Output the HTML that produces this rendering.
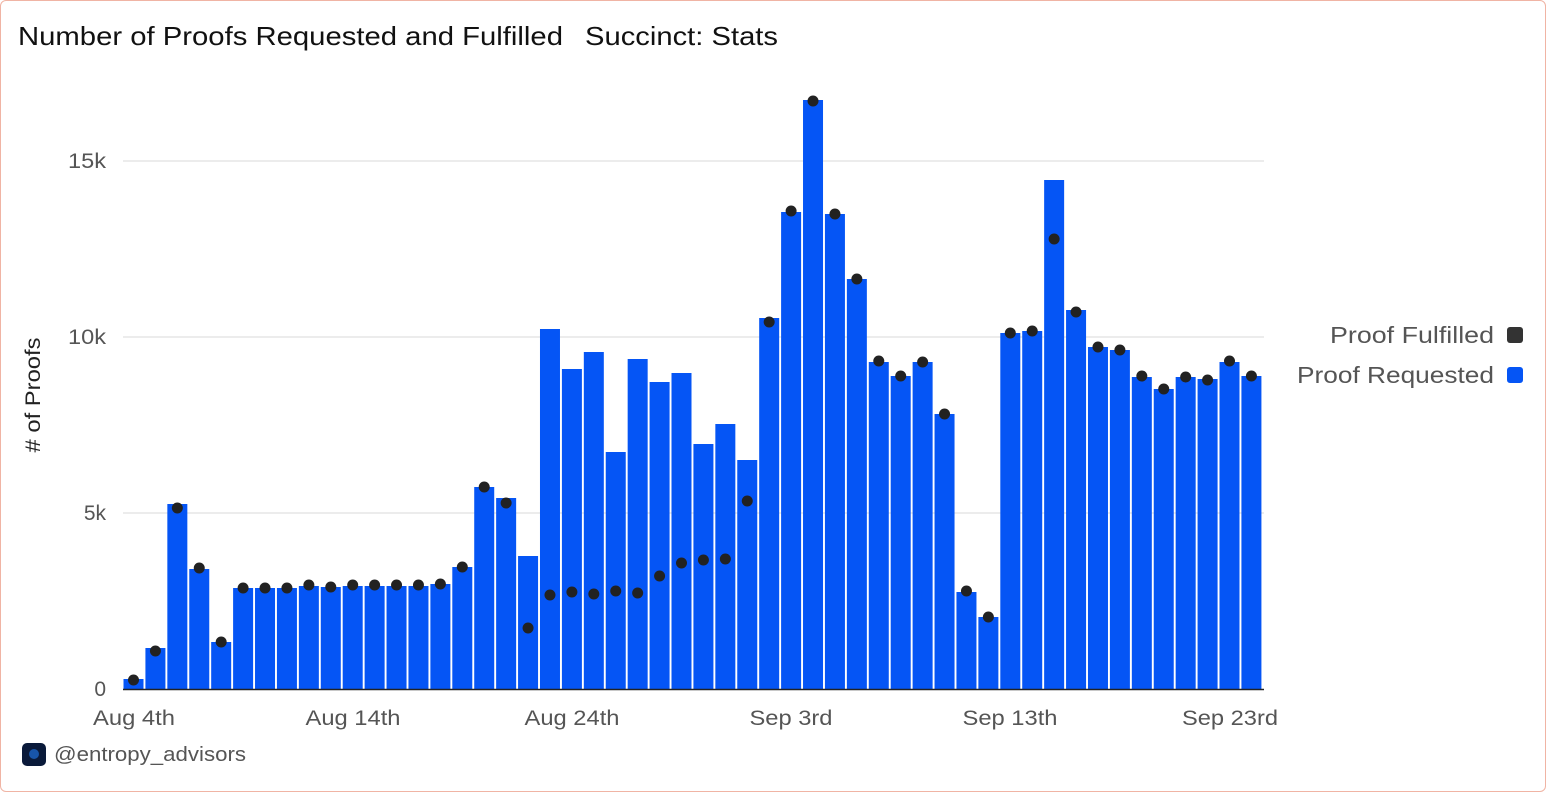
<!DOCTYPE html>
<html><head><meta charset="utf-8"><style>
html,body{margin:0;padding:0;background:#fff;}
#c{position:relative;width:1544px;height:790px;border:1px solid #f0b4a4;border-radius:6px;overflow:hidden;font-family:"Liberation Sans",sans-serif;}
</style></head><body><div id="c">
<svg width="1546" height="792" style="position:absolute;left:-1px;top:-1px">
<text x="18" y="45" font-size="26" fill="#111" textLength="545" lengthAdjust="spacingAndGlyphs">Number of Proofs Requested and Fulfilled</text>
<text x="585" y="45" font-size="26" fill="#111" textLength="193" lengthAdjust="spacingAndGlyphs">Succinct: Stats</text>
<g stroke="#e6e6e6" stroke-width="1.5">
<line x1="123" x2="1264" y1="161" y2="161"/><line x1="123" x2="1264" y1="337" y2="337"/><line x1="123" x2="1264" y1="513" y2="513"/>
</g>
<g font-size="21" fill="#555" text-anchor="end">
<text x="106" y="168" textLength="38" lengthAdjust="spacingAndGlyphs">15k</text><text x="106" y="344" textLength="38" lengthAdjust="spacingAndGlyphs">10k</text><text x="106" y="520">5k</text><text x="106" y="696">0</text>
</g>
<text transform="translate(40,395) rotate(-90)" font-size="21" fill="#222" text-anchor="middle" textLength="115" lengthAdjust="spacingAndGlyphs"># of Proofs</text>
<g id="bars"></g>
<line x1="123" x2="1264" y1="689.5" y2="689.5" stroke="#222" stroke-width="1.5"/>
<g id="dots"></g>
<g font-size="21" fill="#555" text-anchor="middle">
<text x="134" y="725" textLength="82" lengthAdjust="spacingAndGlyphs">Aug 4th</text><text x="353" y="725" textLength="95" lengthAdjust="spacingAndGlyphs">Aug 14th</text><text x="572" y="725" textLength="95" lengthAdjust="spacingAndGlyphs">Aug 24th</text><text x="791" y="725" textLength="83" lengthAdjust="spacingAndGlyphs">Sep 3rd</text><text x="1010" y="725" textLength="95" lengthAdjust="spacingAndGlyphs">Sep 13th</text><text x="1230" y="725" textLength="96" lengthAdjust="spacingAndGlyphs">Sep 23rd</text>
</g>
<g font-size="23" fill="#555" text-anchor="end">
<text x="1494" y="343" textLength="164" lengthAdjust="spacingAndGlyphs">Proof Fulfilled</text><text x="1494" y="383" textLength="197" lengthAdjust="spacingAndGlyphs">Proof Requested</text>
</g>
<rect x="1507" y="327" width="16" height="16" rx="3" fill="#333"/>
<rect x="1507" y="367" width="16" height="16" rx="3" fill="#0555f5"/>
<rect x="22" y="743" width="24" height="23" rx="5" fill="#0a1a3a"/>
<circle cx="34" cy="754" r="5" fill="#1e6fd9" opacity="0.7"/>
<text x="54" y="761" font-size="20" fill="#555" textLength="192" lengthAdjust="spacingAndGlyphs">@entropy_advisors</text>
</svg>
<script>
var d=[[679,680],[648,651],[504,508],[569,568],[642,642],[588,588],[588,588],[588,588],[586,585],[587,587],[586,585],[586,585],[586,585],[586,585],[584,584],[567,567],[487,487],[498,503],[556,628],[329,595],[369,592],[352,594],[452,591],[359,593],[382,576],[373,563],[444,560],[424,559],[460,501],[318,322],[212,211],[100,101],[214,214],[279,279],[362,361],[376,376],[362,362],[414,414],[592,591],[617,617],[333,333],[331,331],[180,239],[310,312],[347,347],[350,350],[377,376],[389,389],[377,377],[379,380],[362,361],[376,376]];
var ns="http://www.w3.org/2000/svg",b=document.getElementById("bars"),o=document.getElementById("dots");
d.forEach(function(v,i){var x=123.5+i*21.92;
var r=document.createElementNS(ns,"rect");r.setAttribute("x",x);r.setAttribute("y",v[0]);r.setAttribute("width",20);r.setAttribute("height",689-v[0]);r.setAttribute("fill","#0555f5");b.appendChild(r);
var c=document.createElementNS(ns,"circle");c.setAttribute("cx",x+10);c.setAttribute("cy",v[1]);c.setAttribute("r",5.5);c.setAttribute("fill","#222");o.appendChild(c);});
</script>
</div></body></html>
